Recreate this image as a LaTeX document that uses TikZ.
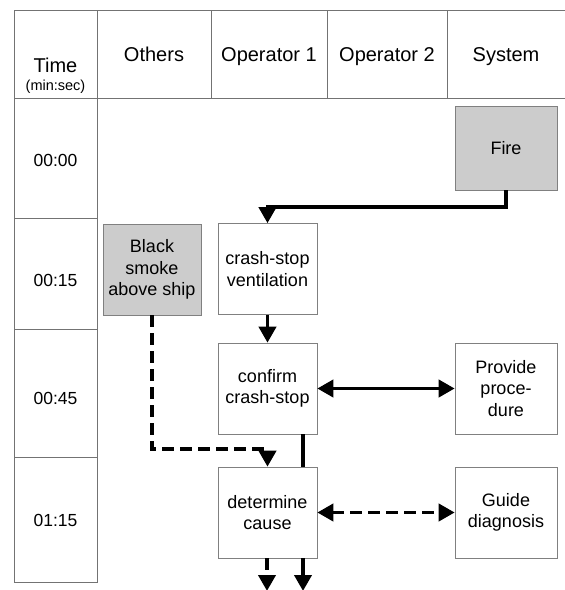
\documentclass[tikz,border=0pt]{standalone}
\usepackage{fontspec}
\setmainfont{Liberation Sans}
\usetikzlibrary{arrows.meta}
\definecolor{gridline}{gray}{0.45}
\definecolor{boxline}{gray}{0.50}
\definecolor{shade}{gray}{0.80}
\begin{document}
\begin{tikzpicture}[x=1pt,y=-1pt,
  grid/.style={draw=gridline,line width=0.7pt},
  head/.style={font=\fontsize{20}{24}\selectfont,inner sep=0pt,anchor=base},
  stamp/.style={font=\fontsize{17.5}{21}\selectfont,inner sep=0pt},
  task/.style={draw=boxline,line width=0.6pt,fill=white,align=center,
    font=\fontsize{18}{21.5}\selectfont,inner sep=0pt,
    minimum width=99pt,minimum height=91pt},
  wide/.style={minimum width=102pt},
  event/.style={task,fill=shade},
  flow/.style={line width=3.8pt,-{Triangle[width=17pt,length=16pt]}},
  link/.style={line width=3.8pt},
  both/.style={line width=3.8pt,{Triangle[width=17pt,length=16pt]}-{Triangle[width=17pt,length=16pt]}},
  hint/.style={dash pattern=on 12pt off 6pt}]
\useasboundingbox (0,0) rectangle (565,590);
\fill[white] (0,0) rectangle (565,590);

% header row and time column
\draw[grid] (565,10) -- (14,10) -- (14,582) -- (97,582) -- (97,10);
\draw[grid] (14,98) -- (565,98);
\foreach \x in {211,327,447} \draw[grid] (\x,10) -- (\x,98);
\foreach \y in {218,329,457} \draw[grid] (14,\y) -- (97,\y);

\node[head] (hTime) at (55.5,72) {Time};
\node[inner sep=0pt,anchor=base,font=\fontsize{14.5}{17}\selectfont] (hUnit) at (55.5,90) {(min:sec)};
\node[head] (hOthers) at (154,61) {Others};
\node[head] (hOp1) at (269,61) {Operator 1};
\node[head] (hOp2) at (387,61) {Operator 2};
\node[head] (hSys) at (506,61) {System};

\node[stamp] (t0) at (55.5,160) {00:00};
\node[stamp] (t1) at (55.5,280) {00:15};
\node[stamp] (t2) at (55.5,398) {00:45};
\node[stamp] (t3) at (55.5,520) {01:15};

% activity boxes
\node[event,wide,minimum height=84pt] (fire) at (506,148) {Fire};
\node[event,minimum width=98pt] (smoke) at (152,269.5) {Black\\smoke\\above ship};
\node[task] (vent) at (267.5,269) {crash-stop\\ventilation};
\node[task] (confirm) at (267.5,388.5) {confirm\\crash-stop};
\node[task] (cause) at (267.5,512.5) {determine\\cause};
\node[task,wide] (proc) at (506,388.5) {Provide\\proce-\\dure};
\node[task,wide] (diag) at (506,512.5) {Guide\\diagnosis};

\coordinate (outA) at (267,591);
\coordinate (outB) at (303,591);

% connectors
\draw[flow] (fire.south) -- ++(0,17) -| (vent.north);
\draw[flow] (vent.south) -- (confirm.north);
\draw[both] (confirm.east) -- (proc.west);
\draw[flow,hint] (smoke.south) -- ++(0,134) -| (cause.north);
\draw[link] ([xshift=35.5pt]confirm.south) -- ([xshift=35.5pt]cause.north);
\draw[both,hint] (cause.east) -- (diag.west);
\draw[flow,hint] (cause.south -| outA) -- (outA);
\draw[flow] (cause.south -| outB) -- (outB);
\end{tikzpicture}
\end{document}
